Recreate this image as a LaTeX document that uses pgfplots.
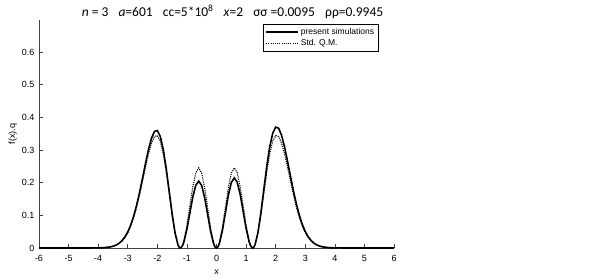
\documentclass[border=0pt]{standalone}
\usepackage{pgfplots}
\pgfplotsset{compat=1.18}
\usepackage{fontspec}
\setmainfont{Liberation Sans}
\newfontfamily\calibri{Carlito}
\pgfplotsset{mylegend/.style={legend image code/.code={\draw[##1] (0pt,0pt) -- (32pt,0pt);}}}
\begin{document}
\begin{tikzpicture}[x=1pt,y=1pt]
\useasboundingbox (0,0) rectangle (605,276);
\begin{axis}[
  at={(39pt,28pt)}, anchor=south west,
  scale only axis, width=355pt, height=228.5pt,
  xmin=-6, xmax=6, ymin=0, ymax=0.7,
  axis x line*=bottom, axis y line*=left,
  axis line style={black!75, line width=0.8pt},
  tick align=inside, major tick length=4pt,
  tick style={black!75, line width=0.6pt},
  xtick={-6,-5,-4,-3,-2,-1,0,1,2,3,4,5,6},
  xticklabels={-6,-5,-4,-3,-2,-1,0,1,2,3,4,5,6},
  ytick={0,0.1,0.2,0.3,0.4,0.5,0.6},
  yticklabels={0,0.1,0.2,0.3,0.4,0.5,0.6},
  ticklabel style={font=\fontsize{9}{10}\selectfont},
  xticklabel style={yshift=-4pt},
  yticklabel style={xshift=-1pt},
  xlabel={x}, ylabel={f(x).q},
  label style={font=\fontsize{9}{10}\selectfont},
  xlabel style={yshift=-1pt},
  ylabel style={yshift=-2pt},
  title={\calibri\fontsize{13.5}{15}\selectfont \textit{n} = 3\hspace{0.75em}\textit{a}=601\hspace{0.75em}cc=5*10\textsuperscript{8}\hspace{0.75em}\textit{x}=2\hspace{0.75em}σσ =0.0095\hspace{0.75em}ρρ=0.9945},
  title style={at={(0.5,1)}, anchor=base, yshift=-3pt, xshift=16pt},
  legend style={at={(rel axis cs:0.631,0.982)}, anchor=north west, draw=black, line width=0.6pt,
     font=\fontsize{8.5}{9.5}\selectfont, inner sep=2pt, row sep=0pt, cells={anchor=west}},
  legend cell align=left,
  clip=false,
]
\addplot[black, line width=1.6pt, mylegend] coordinates {
(-6,0) (-5,0) (-4.5,0.00002) (-4.0,0.00029) (-3.8,0.00101) (-3.6,0.00315) (-3.5,0.00533)
(-3.4,0.00878) (-3.3,0.01408) (-3.2,0.02196) (-3.1,0.03331) (-3.0,0.04912) (-2.9,0.07028)
(-2.8,0.09752) (-2.7,0.13114) (-2.6,0.17043) (-2.5,0.21401) (-2.4,0.25893) (-2.3,0.30116)
(-2.2,0.33561) (-2.1,0.35683) (-2.0,0.35995) (-1.9,0.34176) (-1.8,0.30197) (-1.7,0.24397)
(-1.6,0.17479) (-1.5,0.10487) (-1.4,0.04593) (-1.3,0.00885) (-1.25,0.00100) (-1.2247,0)
(-1.2,0.00077) (-1.15,0.00697) (-1.1,0.01906) (-1.0,0.05777) (-0.9,0.10777) (-0.8,0.15677)
(-0.7,0.19234) (-0.6,0.20503) (-0.5,0.19109) (-0.4,0.15377) (-0.3,0.10272) (-0.2,0.05145)
(-0.1,0.01380) (-0.05,0.00352) (0,0)
(0.05,0.00368) (0.1,0.01446) (0.2,0.05392) (0.3,0.10764) (0.4,0.16114) (0.5,0.20024)
(0.6,0.21485) (0.7,0.20156) (0.8,0.16428) (0.9,0.11293) (1.0,0.06053) (1.1,0.01998)
(1.15,0.00731) (1.2,0.00081) (1.2247,0) (1.25,0.00103) (1.3,0.00911) (1.4,0.04725)
(1.5,0.10788) (1.6,0.17980) (1.7,0.25097) (1.8,0.31064) (1.9,0.35157) (2.0,0.37028)
(2.1,0.36707) (2.2,0.34525) (2.3,0.30980) (2.4,0.26636) (2.5,0.22015) (2.6,0.17532)
(2.7,0.13490) (2.8,0.10032) (2.9,0.07229) (3.0,0.05053) (3.1,0.03427) (3.2,0.02259)
(3.3,0.01448) (3.4,0.00903) (3.5,0.00548) (3.6,0.00324) (3.8,0.00104) (4.0,0.00030)
(4.5,0.00002) (5,0) (6,0)
};
\addlegendentry{present simulations}
\addplot[black, line width=1.1pt, dash pattern=on 1.1pt off 1.1pt, mylegend] coordinates {
(-6,0) (-5,0) (-4.5,0.00002) (-4.0,0.00028) (-3.8,0.00097) (-3.6,0.00301) (-3.5,0.00510)
(-3.4,0.00840) (-3.3,0.01347) (-3.2,0.02101) (-3.1,0.03188) (-3.0,0.04700) (-2.9,0.06725)
(-2.8,0.09332) (-2.7,0.12549) (-2.6,0.16309) (-2.5,0.20479) (-2.4,0.24778) (-2.3,0.28819)
(-2.2,0.32116) (-2.1,0.34146) (-2.0,0.34445) (-1.9,0.32704) (-1.8,0.28897) (-1.7,0.23346)
(-1.6,0.16726) (-1.5,0.10035) (-1.4,0.04395) (-1.3,0.00847) (-1.25,0.00096) (-1.2247,0)
(-1.2,0.00092) (-1.15,0.00835) (-1.1,0.02283) (-1.0,0.06918) (-0.9,0.12906) (-0.8,0.18775)
(-0.7,0.23035) (-0.6,0.24554) (-0.5,0.22885) (-0.4,0.18416) (-0.3,0.12302) (-0.2,0.06162)
(-0.1,0.01653) (-0.05,0.00421) (0,0)
(0.05,0.00421) (0.1,0.01653) (0.2,0.06162) (0.3,0.12302) (0.4,0.18416) (0.5,0.22885)
(0.6,0.24554) (0.7,0.23035) (0.8,0.18775) (0.9,0.12906) (1.0,0.06918) (1.1,0.02283)
(1.15,0.00835) (1.2,0.00092) (1.2247,0) (1.25,0.00096) (1.3,0.00847) (1.4,0.04395)
(1.5,0.10035) (1.6,0.16726) (1.7,0.23346) (1.8,0.28897) (1.9,0.32704) (2.0,0.34445)
(2.1,0.34146) (2.2,0.32116) (2.3,0.28819) (2.4,0.24778) (2.5,0.20479) (2.6,0.16309)
(2.7,0.12549) (2.8,0.09332) (2.9,0.06725) (3.0,0.04700) (3.1,0.03188) (3.2,0.02101)
(3.3,0.01347) (3.4,0.00840) (3.5,0.00510) (3.6,0.00301) (3.8,0.00097) (4.0,0.00028)
(4.5,0.00002) (5,0) (6,0)
};
\addlegendentry{Std. Q.M.}
\end{axis}
\end{tikzpicture}
\end{document}
